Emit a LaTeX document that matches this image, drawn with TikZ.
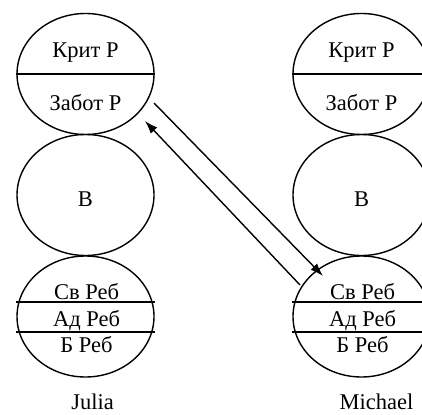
\documentclass[tikz,border=0pt]{standalone}
\usepackage{fontspec}
\setmainfont{Liberation Serif}
\usetikzlibrary{
		shapes.geometric,
		arrows.meta,
		positioning
	}
\tikzset{
		>={Latex[length=13pt,width=9pt]},
		oval/.style={draw, ellipse, minimum width=137pt, minimum height=121pt, inner sep=0pt},
		lbl/.style={anchor=base, inner sep=0pt}
	}

\begin{document}
\begin{tikzpicture}[x=1pt, y=-1pt, line width=1.4pt, font=\fontsize{22.5}{27}\selectfont]
		\clip (0,0) rectangle (422,414);
		% Julia
		\node[oval] (jkrit) at (85.5,74) {}; \node[oval] (jb) at (85.5,195) {}; \node[oval] (jreb) at (85.5,316.5) {};
		\draw (jkrit.west) -- (jkrit.east);
		\draw ([yshift=14.5pt]jreb.west) -- ([yshift=14.5pt]jreb.east); \draw ([yshift=-15.5pt]jreb.west) -- ([yshift=-15.5pt]jreb.east);
		\node[lbl] (jt1) at (85.5,58) {Крит Р}; \node[lbl] (jt2) at (85.5,111) {Забот Р}; \node[lbl] (jt3) at (85.5,206) {В};
		\node[lbl] (jt4) at (86.5,299) {Св Реб}; \node[lbl] (jt5) at (86.5,326.5) {Ад Реб}; \node[lbl] (jt6) at (86.5,352.5) {Б Реб};
		\node[lbl] (julia) at (92.5,409.5) {Julia};
		% Michael
		\node[oval] (mkrit) at (361.5,74) {}; \node[oval] (mb) at (361.5,195) {}; \node[oval] (mreb) at (361.5,316.5) {};
		\draw (mkrit.west) -- (mkrit.east);
		\draw ([yshift=14.5pt]mreb.west) -- ([yshift=14.5pt]mreb.east); \draw ([yshift=-15.5pt]mreb.west) -- ([yshift=-15.5pt]mreb.east);
		\node[lbl] (mt1) at (361.5,58) {Крит Р}; \node[lbl] (mt2) at (361.5,111) {Забот Р}; \node[lbl] (mt3) at (361.5,206) {В};
		\node[lbl] (mt4) at (362.5,299) {Св Реб}; \node[lbl] (mt5) at (362.5,326.5) {Ад Реб}; \node[lbl] (mt6) at (362.5,352.5) {Б Реб};
		\node[lbl] (michael) at (376.5,409.5) {Michael};
		% arrows
		\coordinate (outj) at (154,103); \coordinate (inm) at (323,276);
		\coordinate (outm) at (300,285); \coordinate (inj) at (145,121);
		\draw[->] (outj) -- (inm);
		\draw[->] (outm) -- (inj);
	\end{tikzpicture}
\end{document}
